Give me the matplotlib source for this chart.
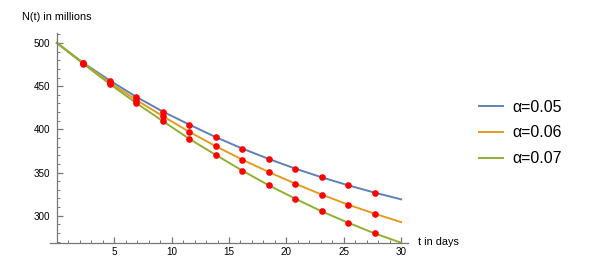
import numpy as np
import matplotlib
matplotlib.use("Agg")
import matplotlib.pyplot as plt
from matplotlib.ticker import MultipleLocator

plt.rcParams['font.family'] = ['Liberation Sans', 'DejaVu Sans']

t_pts = [2.31, 4.62, 6.92, 9.23, 11.54, 13.85, 16.15, 18.46, 20.77, 23.08, 25.38, 27.69]
n_a05 = [476.8, 456.5, 437.6, 420.6, 405.5, 391.0, 377.8, 365.8, 354.6, 344.5, 335.3, 326.8]
n_a06 = [476.3, 454.2, 434.0, 415.3, 397.1, 380.5, 365.0, 350.7, 337.2, 324.5, 312.9, 302.4]
n_a07 = [475.8, 452.4, 430.4, 409.6, 389.0, 370.4, 352.3, 335.3, 319.8, 305.1, 292.0, 279.6]

# curve end points
t_start, t_end = 0, 30
n_start = 500
n_end = {"0.05": 319.0, "0.06": 292.7, "0.07": 268.8}

labels = ["0.05", "0.06", "0.07"]
colors = ["#5E81B5", "#E19C24", "#8FB032"]
series = [n_a05, n_a06, n_a07]

fig = plt.figure(figsize=(5.89, 2.69), dpi=100)
ax = fig.add_axes([50 / 589, 26 / 269, 358 / 589, 210 / 269])

for lab, col, vals in zip(labels, colors, series):
    tt = [t_start] + t_pts + [t_end]
    nn = [n_start] + vals + [n_end[lab]]
    ax.plot(tt, nn, color=col, lw=1.4, label="α=" + lab, zorder=2)

for vals in series:
    ax.plot(t_pts, vals, 'o', color="#FF0000", ms=4.8, mec="none", zorder=3)

ax.set_xlim(-0.6, 30.6)
ax.set_ylim(268.5, 511.5)

axis_col = "#777777"
for s in ["top", "right"]:
    ax.spines[s].set_visible(False)
ax.spines["left"].set_position(("data", 0))
for s in ["left", "bottom"]:
    ax.spines[s].set_color(axis_col)
    ax.spines[s].set_linewidth(0.9)

ax.set_xticks([5, 10, 15, 20, 25, 30])
ax.set_yticks([300, 350, 400, 450, 500])
ax.xaxis.set_minor_locator(MultipleLocator(1))
ax.yaxis.set_minor_locator(MultipleLocator(10))
ax.tick_params(which="major", direction="in", length=4, width=0.9, color=axis_col,
               labelsize=7.1, labelcolor="black")
ax.tick_params(which="minor", direction="in", length=2.2, width=0.7, color=axis_col)
ax.tick_params(axis="y", pad=5)
ax.tick_params(axis="x", pad=3)

fig.text(22 / 589, 1 - 17 / 269, "N(t) in millions", fontsize=7.8, va="center", ha="left")
fig.text(418 / 589, 1 - 242 / 269, "t in days", fontsize=7.8, va="center", ha="left")

fig.legend(loc="center left", bbox_to_anchor=(465 / 589, 1 - 133 / 269), frameon=False,
           fontsize=11.5, handlelength=1.45, handletextpad=0.6, labelspacing=0.68)

fig.savefig("out.png", dpi=100)
